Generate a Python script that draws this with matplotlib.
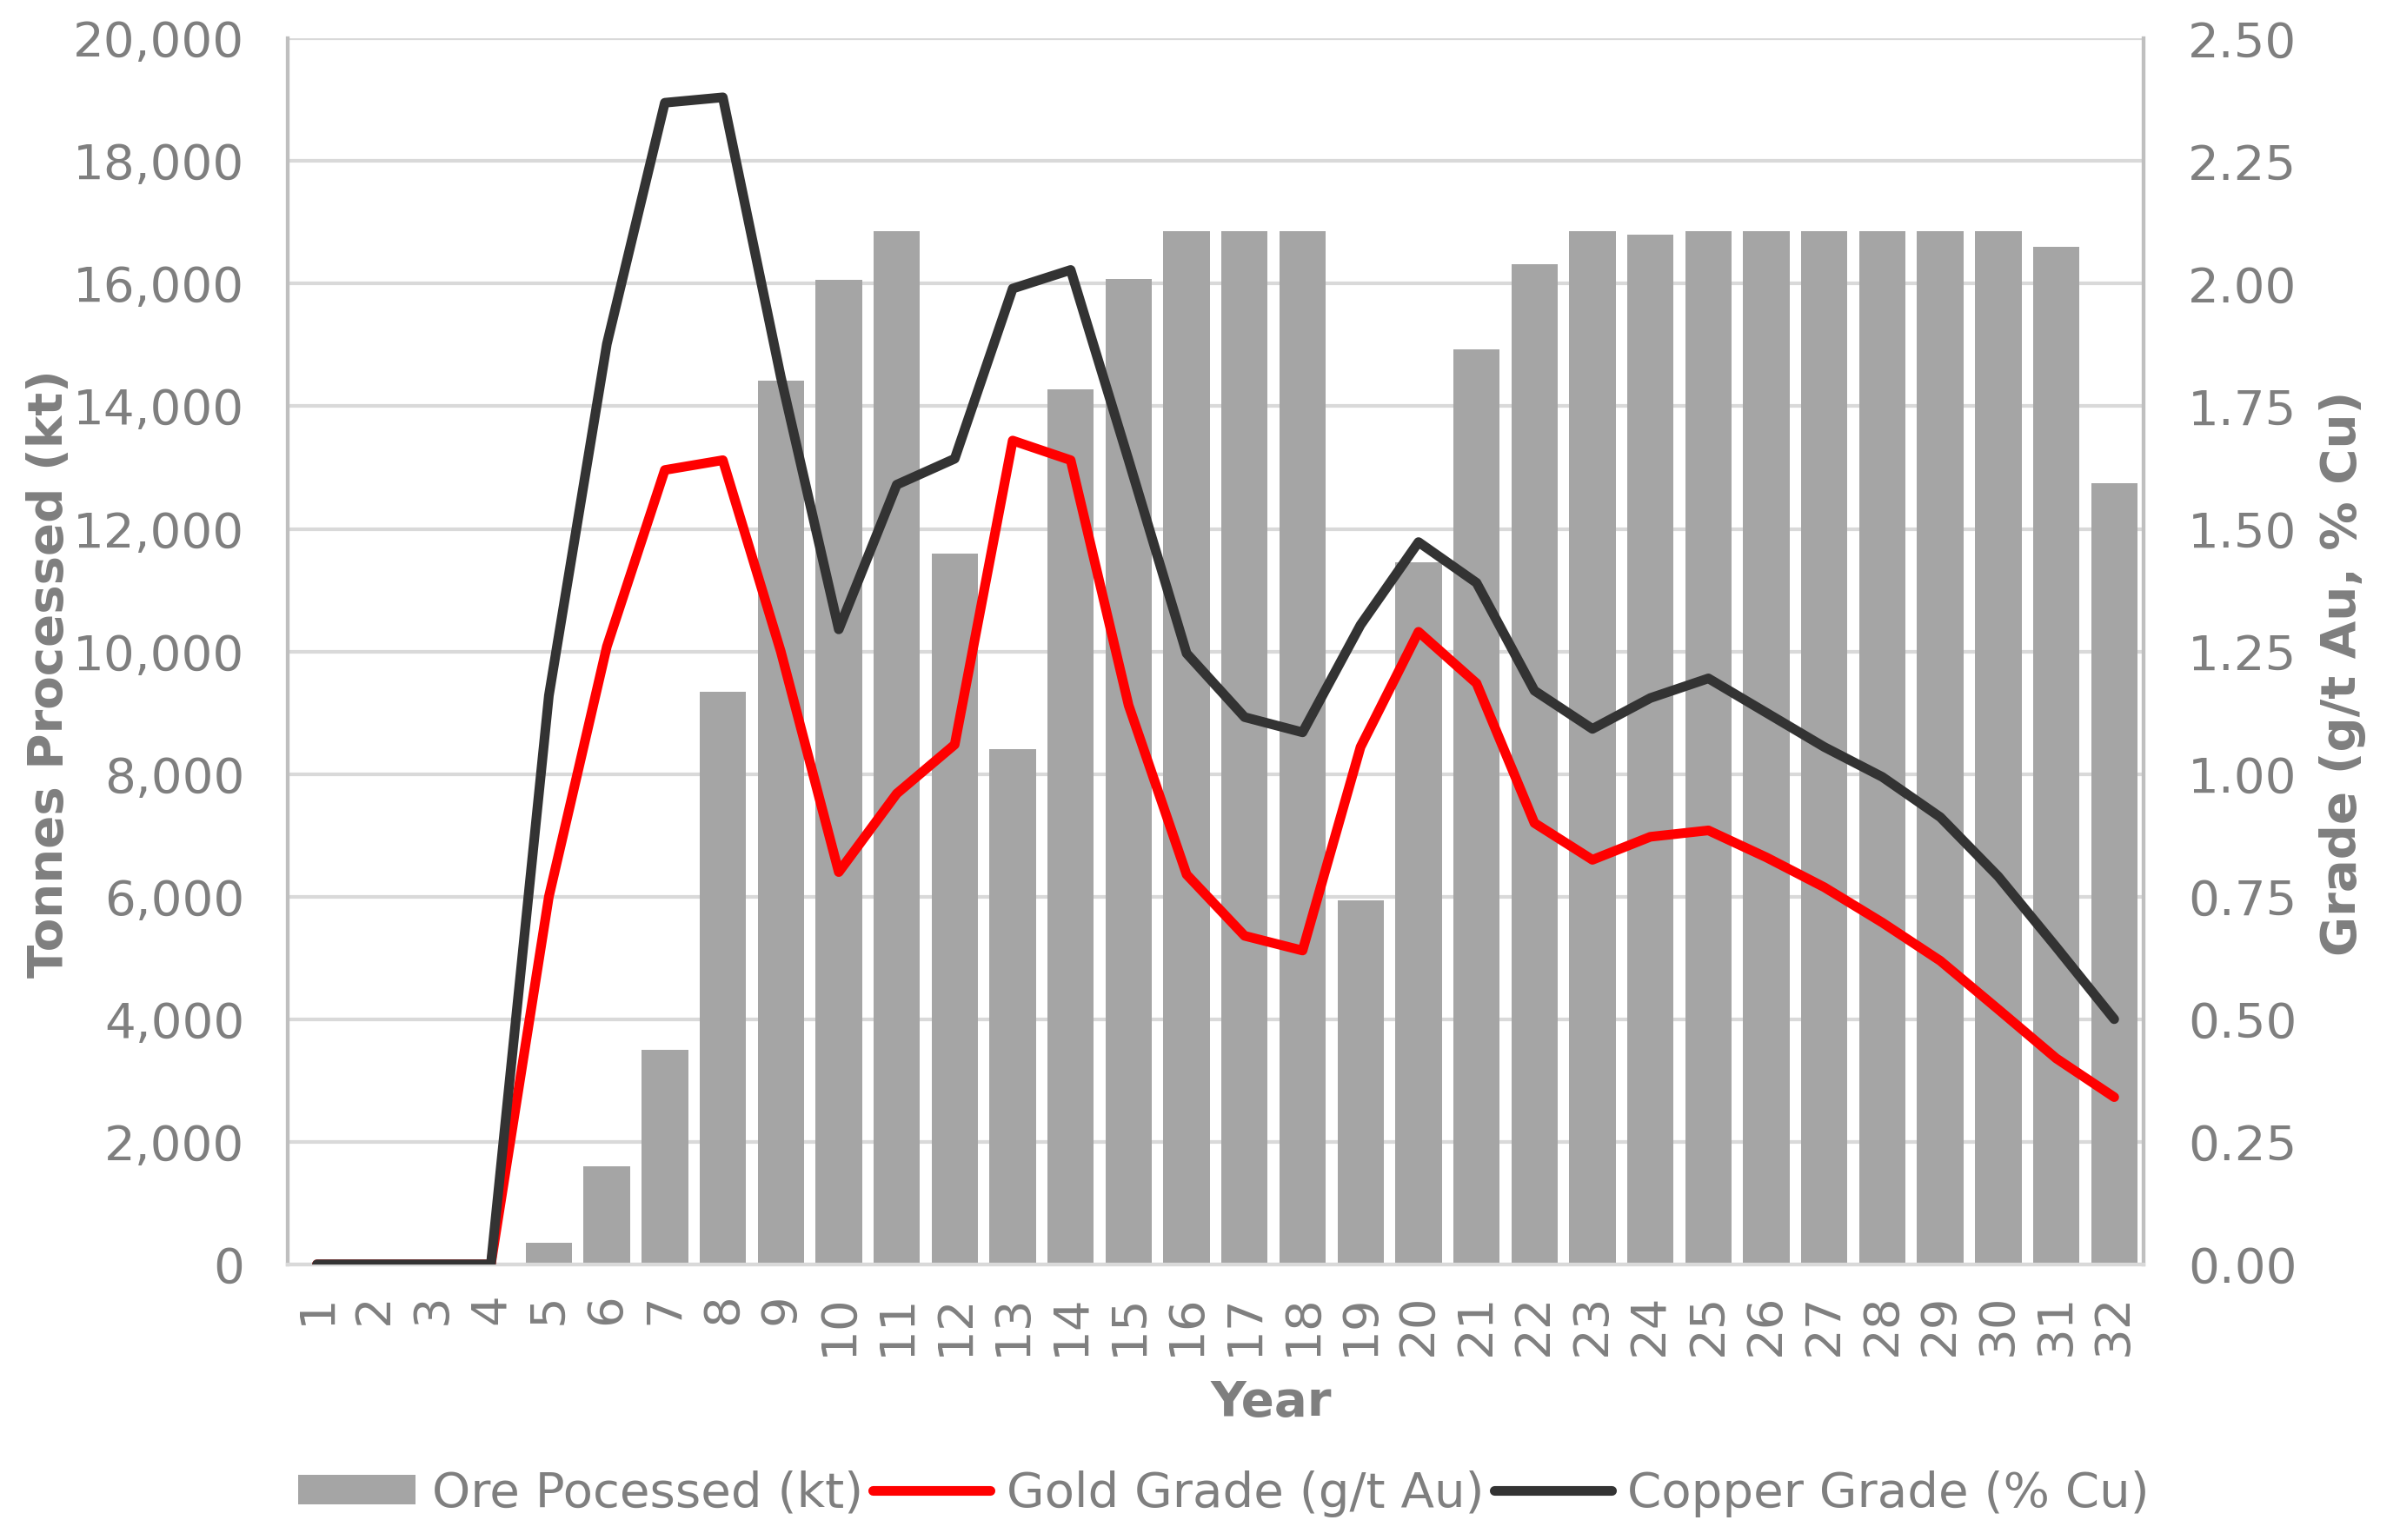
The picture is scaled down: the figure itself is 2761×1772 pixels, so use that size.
import matplotlib
matplotlib.use("Agg")
import matplotlib.pyplot as plt
from matplotlib.ticker import FuncFormatter, MultipleLocator
from matplotlib.patches import Patch
from matplotlib.lines import Line2D
import numpy as np

# years of the mine plan
years = list(range(1, 33))

# ore processed per year (kt)
ore_kt = [0, 0, 0, 0, 350, 1600, 3500, 9340, 14420, 16060, 16850, 11590,
          8400, 14270, 16080, 16850, 16850, 16850, 5940, 11450, 14930, 16320,
          16850, 16800, 16850, 16850, 16850, 16850, 16850, 16850, 16600, 12740]

# gold grade (g/t Au)
gold_gpt = [0, 0, 0, 0, 0.75, 1.26, 1.62, 1.64, 1.25, 0.80, 0.96, 1.06,
            1.68, 1.64, 1.14, 0.795, 0.67, 0.64, 1.055, 1.29, 1.185, 0.90,
            0.825, 0.872, 0.885, 0.83, 0.769, 0.697, 0.619, 0.52, 0.42, 0.341]

# copper grade (% Cu)
copper_pct = [0, 0, 0, 0, 1.16, 1.877, 2.369, 2.38, 1.81, 1.295, 1.59, 1.643,
              1.99, 2.028, 1.64, 1.246, 1.116, 1.085, 1.304, 1.473, 1.39, 1.17,
              1.092, 1.155, 1.195, 1.125, 1.055, 0.994, 0.912, 0.791, 0.647, 0.50]

TXT = "#7F7F7F"
BAR = "#A5A5A5"
GRID = "#D9D9D9"
SPINE = "#BFBFBF"
FS = 40.5

plt.rcParams["font.family"] = ["DejaVu Sans"]

fig = plt.figure(figsize=(27.61, 17.72), dpi=100)
ax = fig.add_axes([0.120, 0.179, 0.773, 0.796])
ax2 = ax.twinx()

x = np.arange(len(years))
ax.bar(x, ore_kt, width=0.8, color=BAR, zorder=2)
ax.set_xlim(-0.5, len(years) - 0.5)
ax.set_ylim(0, 20000)
ax.yaxis.set_major_locator(MultipleLocator(2000))
ax.yaxis.set_major_formatter(FuncFormatter(lambda v, p: f"{int(v):,}"))
ax.grid(axis="y", color=GRID, linewidth=3, zorder=0)
ax.set_axisbelow(True)
ax.set_xticks(x)
ax.set_xticklabels([str(y) for y in years], rotation=90)

lw = 8
ax2.plot(x, gold_gpt, color="#FF0000", linewidth=lw, solid_joinstyle="round",
         solid_capstyle="round", zorder=3)
ax2.plot(x, copper_pct, color="#333333", linewidth=lw, solid_joinstyle="round",
         solid_capstyle="round", zorder=4)
ax2.set_ylim(0, 2.5)
ax2.yaxis.set_major_locator(MultipleLocator(0.25))
ax2.yaxis.set_major_formatter(FuncFormatter(lambda v, p: f"{v:.2f}"))

for a in (ax, ax2):
    a.spines["top"].set_visible(False)
    a.spines["left"].set_color(SPINE)
    a.spines["right"].set_color(SPINE)
    a.spines["bottom"].set_color(GRID)
    for s in ("left", "right", "bottom"):
        a.spines[s].set_linewidth(3)
    a.tick_params(length=0, labelsize=FS, labelcolor=TXT)

ax.tick_params(axis="y", pad=36)
ax.tick_params(axis="x", pad=24)
ax2.tick_params(axis="y", pad=37)

ax.set_ylabel("Tonnes Processed (kt)", fontsize=FS, fontweight="bold", color=TXT)
ax.yaxis.set_label_coords(-0.116, 0.482)
ax2.set_ylabel("Grade (g/t Au, % Cu)", fontsize=FS, fontweight="bold", color=TXT)
ax2.yaxis.set_label_coords(1.095, 0.482)
ax.set_xlabel("Year", fontsize=FS, fontweight="bold", color=TXT)
ax.xaxis.set_label_coords(0.530, -0.094)

handles = [
    Patch(facecolor=BAR, edgecolor="none", label="Ore Pocessed (kt)"),
    Line2D([], [], color="#FF0000", linewidth=lw, solid_capstyle="round",
           label="Gold Grade (g/t Au)"),
    Line2D([], [], color="#333333", linewidth=lw, solid_capstyle="round",
           label="Copper Grade (% Cu)"),
]
leg = fig.legend(handles=handles, loc="center", bbox_to_anchor=(0.51, 0.030),
                 ncol=3, frameon=False, fontsize=FS, handlelength=2.4,
                 handleheight=0.55, handletextpad=0.33, columnspacing=0.2)
for t in leg.get_texts():
    t.set_color(TXT)

fig.savefig("out.png", dpi=100)
